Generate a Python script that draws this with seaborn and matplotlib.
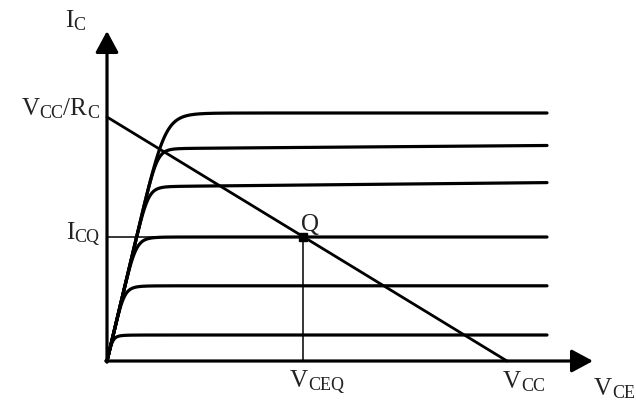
import numpy as np
import pandas as pd
import matplotlib
matplotlib.use("Agg")
import matplotlib.pyplot as plt
import seaborn as sns

# Operating values of the common-emitter stage (normalised units)
V_CC = 10.0            # supply voltage
I_SAT = 6.1            # V_CC / R_C, load-line intercept on the I_C axis
V_CEQ = 4.9            # quiescent collector-emitter voltage
I_CQ = 3.1             # quiescent collector current

# Output characteristic family: active-region current of each curve
curve_levels = [6.2, 5.3, 4.35, 3.1, 1.88, 0.65]
early_slopes = [0.0, 0.008, 0.01, 0.0, 0.0, 0.0]
knee_sharpness = [8.0, 12.0, 10.0, 7.0, 5.0, 3.0]
saturation_slope = 4.2
v_curve_end = 11.0

sns.set_style("white")
plt.rcParams["font.family"] = ["Liberation Serif", "DejaVu Serif"]

# Build the characteristic curves
v = np.linspace(1e-6, v_curve_end, 1200)
rows = []
for k, (lvl, s, n) in enumerate(zip(curve_levels, early_slopes, knee_sharpness)):
    flat = lvl + s * v
    ramp = saturation_slope * v
    i = (ramp ** -n + flat ** -n) ** (-1.0 / n)
    rows.append(pd.DataFrame({"V": np.r_[0.0, v], "I": np.r_[0.0, i], "curve": k}))
curves = pd.concat(rows, ignore_index=True)

load_line = pd.DataFrame({"V": [0.0, V_CC], "I": [I_SAT, 0.0]})

PX = 40.0  # pixels per data unit on both axes
fig = plt.figure(figsize=(6.36, 4.06), dpi=100)
ax = fig.add_axes([0, 0, 1, 1])
ax.set_xlim(-107 / PX, (636 - 107) / PX)
ax.set_ylim(-(406 - 362) / PX, 362 / PX)
ax.axis("off")

sns.lineplot(data=curves, x="V", y="I", units="curve", estimator=None,
             sort=False, color="black", lw=2.3, ax=ax, legend=False)
sns.lineplot(data=load_line, x="V", y="I", color="black", lw=2.0, ax=ax,
             legend=False)

# Quiescent-point guides
ax.plot([0, V_CEQ], [I_CQ, I_CQ], color="black", lw=1.1)
ax.plot([V_CEQ, V_CEQ], [0, I_CQ], color="black", lw=1.1)
ax.plot([V_CEQ], [I_CQ], marker="s", color="black", markersize=6)

# Axes with arrowheads
arrow = dict(arrowstyle="-|>,head_length=1.3,head_width=0.7", lw=2.3,
             color="black", mutation_scale=10, shrinkA=0, shrinkB=0)
ax.annotate("", xy=(0, 8.25), xytext=(0, -0.03), arrowprops=arrow)
ax.annotate("", xy=(12.15, 0), xytext=(-0.03, 0), arrowprops=arrow)

# Labels with hand-set subscripts (main letter, smaller dropped subscript)
renderer = fig.canvas.get_renderer()
MAIN_FS, SUB_FS, SUB_DROP = 18, 13, 0.07


def label(x, y, parts, ha="left"):
    texts, cx = [], x
    for s, sub in parts:
        t = ax.text(cx, y - (SUB_DROP if sub else 0), s,
                    fontsize=SUB_FS if sub else MAIN_FS,
                    ha="left", va="baseline", color="#222222")
        cx += t.get_window_extent(renderer).width / PX
        texts.append(t)
    if ha == "right":
        shift = cx - x
        for t in texts:
            px, py = t.get_position()
            t.set_position((px - shift, py))


label(-1.05, 8.375, [("I", False), ("C", True)])
label(-0.2, 6.175, [("V", False), ("CC", True), ("/R", False), ("C", True)], ha="right")
label(-0.2, 3.075, [("I", False), ("CQ", True)], ha="right")
label(4.85, 3.275, [("Q", False)])
label(4.58, -0.625, [("V", False), ("CEQ", True)])
label(9.9, -0.65, [("V", False), ("CC", True)])
label(13.2, -0.83, [("V", False), ("CE", True)], ha="right")

fig.savefig("out.png", dpi=100)
